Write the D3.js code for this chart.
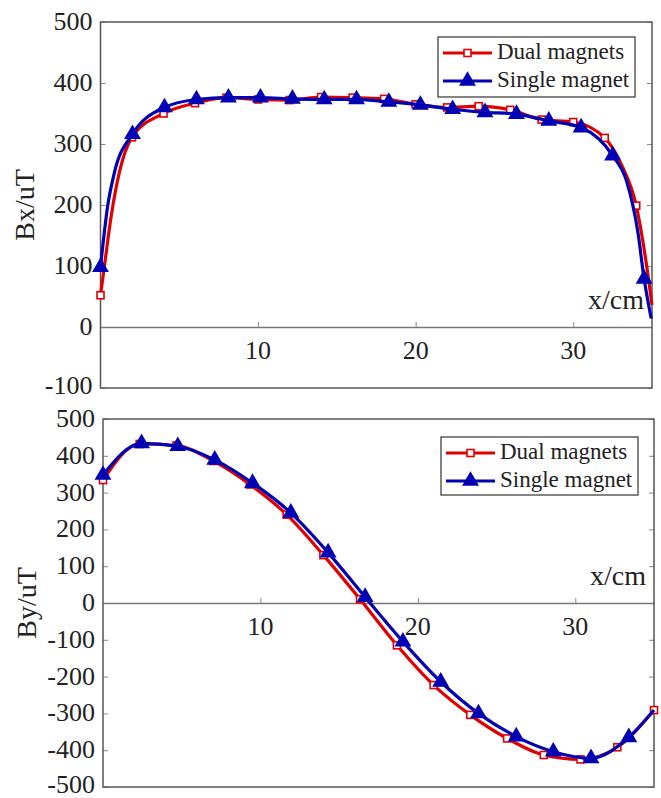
<!DOCTYPE html>
<html>
<head>
<meta charset="utf-8">
<script src="https://cdn.jsdelivr.net/npm/d3@7"></script>
<style>
  html, body { margin: 0; padding: 0; background: #fff; }
  svg { display: block; }
</style>
</head>
<body>
<svg id="chart" width="661" height="798" font-family="'Liberation Serif', 'Times New Roman', 'DejaVu Serif', serif"></svg>
<script>
// ---------- data ----------
const xTicks = [10, 20, 30];
const bxTicks = [-100, 0, 100, 200, 300, 400, 500];
const byTicks = [-500, -400, -300, -200, -100, 0, 100, 200, 300, 400, 500];
const seriesNames = ["Dual magnets", "Single magnet"];

// Bx, dual magnets (marker flag: 1 = marker drawn)
const bxDualX = [0, 0.25, 0.68, 1.2, 2, 4, 6, 8, 10, 12, 14, 16, 18, 20, 22, 24, 26, 28, 30, 32, 33.1, 34, 34.6, 35];
const bxDualY = [52, 100, 182, 254, 311, 350, 367, 376, 373, 372, 377, 376, 374, 365, 360, 362, 356, 340, 336, 310, 264, 199, 111, 36];
const bxDualM = [1, 0, 0, 0, 1, 1, 1, 1, 1, 1, 1, 1, 1, 1, 1, 1, 1, 1, 1, 1, 0, 1, 0, 0];

// Bx, single magnet
const bxSingleX = [0, 0.46, 0.89, 2.03, 4.06, 6.09, 8.12, 10.15, 12.18, 14.2, 16.25, 18.3, 20.3, 22.35, 24.4, 26.4, 28.45, 30.5, 32.5, 33.4, 34.1, 34.5, 34.95];
const bxSingleY = [98, 199, 254, 316, 360, 373, 376, 376, 374, 373, 373, 369, 364, 357, 352, 349, 338, 327, 281, 238, 156, 79, 14];
const bxSingleM = [1, 0, 0, 1, 1, 1, 1, 1, 1, 1, 1, 1, 1, 1, 1, 1, 1, 1, 1, 0, 0, 1, 0];

// By, dual magnets
const byDualX = [0, 2.33, 4.67, 7, 9.33, 11.67, 14, 16.33, 18.67, 21, 23.33, 25.67, 28, 30.33, 32.67, 35];
const byDualY = [334, 432, 428, 386, 322, 240, 130, 10, -115, -223, -304, -368, -413, -425, -392, -291];
const byDualM = [1, 1, 1, 1, 1, 1, 1, 1, 1, 1, 1, 1, 1, 1, 1, 1];

// By, single magnet
const bySingleX = [0, 2.45, 4.75, 7.1, 9.5, 11.93, 14.3, 16.65, 19.05, 21.45, 23.85, 26.25, 28.6, 31.0, 33.4, 35];
const bySingleY = [348, 434, 426, 389, 326, 245, 137, 16, -105, -214, -300, -363, -404, -422, -365, -291];
const bySingleM = [1, 1, 1, 1, 1, 1, 1, 1, 1, 1, 1, 1, 1, 1, 1, 0];

// ---------- styling ----------
const RED = "#e00000";
const BLUE = "#0000b4";
const FRAME = "#555";
const TEXT = "#222";

const svg = d3.select("#chart");

function panel(opts) {
  const { left, right, top, bottom, yDomain, yTicks, yLabel, series, legend } = opts;
  const g = svg.append("g");
  const x = d3.scaleLinear().domain([0, 35]).range([left, right]);
  const y = d3.scaleLinear().domain(yDomain).range([bottom, top]);

  // y axis ticks (inside) on left and right
  const axL = d3.axisLeft(y).tickValues(yTicks).tickSizeInner(-5).tickSizeOuter(0).tickFormat("");
  const axR = d3.axisRight(y).tickValues(yTicks).tickSizeInner(-5).tickSizeOuter(0).tickFormat("");
  const gl = g.append("g").attr("transform", `translate(${left},0)`).call(axL);
  const gr = g.append("g").attr("transform", `translate(${right},0)`).call(axR);
  [gl, gr].forEach(a => {
    a.select(".domain").remove();
    a.selectAll(".tick line").attr("stroke", "#888").attr("stroke-width", 1);
  });
  // y tick labels
  g.append("g").selectAll("text").data(yTicks).join("text")
    .attr("x", left - 8)
    .attr("y", d => y(d) + (d === yDomain[0] ? 0 : 2))
    .attr("text-anchor", "end")
    .attr("dominant-baseline", "middle")
    .attr("font-size", 26)
    .attr("fill", TEXT)
    .text(d => d);

  // zero line with x ticks pointing up
  const axX = d3.axisTop(x).tickValues(xTicks).tickSizeInner(5).tickSizeOuter(0).tickFormat("");
  const gx = g.append("g").attr("transform", `translate(0,${y(0)})`).call(axX);
  gx.select(".domain").attr("stroke", "#777").attr("stroke-width", 1.5);
  gx.selectAll(".tick line").attr("stroke", "#888");
  g.append("g").selectAll("text").data(xTicks).join("text")
    .attr("x", d => x(d))
    .attr("y", y(0) + 26)
    .attr("text-anchor", "middle")
    .attr("dominant-baseline", "middle")
    .attr("font-size", 26)
    .attr("fill", TEXT)
    .text(d => d);

  // frame
  g.append("rect")
    .attr("x", left).attr("y", top)
    .attr("width", right - left).attr("height", bottom - top)
    .attr("fill", "none").attr("stroke", FRAME).attr("stroke-width", 1.5);

  // axis labels
  g.append("text")
    .attr("transform", `translate(${left - 73},${(top + bottom) / 2}) rotate(-90)`)
    .attr("text-anchor", "middle")
    .attr("dominant-baseline", "middle")
    .attr("font-size", 28)
    .attr("fill", TEXT)
    .text(yLabel);
  g.append("text")
    .attr("x", right - 8)
    .attr("y", y(0) - 18)
    .attr("text-anchor", "end")
    .attr("font-size", 28)
    .attr("fill", TEXT)
    .text("x/cm");

  // series
  const line = d3.line().x(d => x(d.x)).y(d => y(d.y)).curve(d3.curveMonotoneX);
  series.forEach(s => {
    const pts = s.xs.map((v, i) => ({ x: v, y: s.ys[i], m: s.ms[i] }));
    g.append("path").datum(pts)
      .attr("d", line)
      .attr("fill", "none")
      .attr("stroke", s.color)
      .attr("stroke-width", 3.2)
      .attr("stroke-linejoin", "round");
    const mk = pts.filter(d => d.m);
    if (s.shape === "square") {
      g.append("g").selectAll("rect").data(mk).join("rect")
        .attr("x", d => x(d.x) - 3.5).attr("y", d => y(d.y) - 3.5)
        .attr("width", 7).attr("height", 7)
        .attr("fill", "#fff").attr("stroke", s.color).attr("stroke-width", 1.6);
    } else {
      const tri = d3.symbol().type(d3.symbolTriangle).size(78);
      g.append("g").selectAll("path").data(mk).join("path")
        .attr("transform", d => `translate(${x(d.x)},${y(d.y)})`)
        .attr("d", tri)
        .attr("fill", s.color).attr("stroke", s.color).attr("stroke-width", 2)
        .attr("stroke-linejoin", "miter");
    }
  });

  // legend
  const lg = g.append("g");
  lg.append("rect")
    .attr("x", legend.x).attr("y", legend.y)
    .attr("width", legend.w).attr("height", legend.h)
    .attr("fill", "#fff").attr("stroke", "#333").attr("stroke-width", 1.2);
  series.forEach((s, i) => {
    const cy = legend.y + 16 + i * 28;
    lg.append("line")
      .attr("x1", legend.x + 5).attr("x2", legend.x + 54)
      .attr("y1", cy).attr("y2", cy)
      .attr("stroke", s.color).attr("stroke-width", 3);
    const cx = legend.x + 29.5;
    if (s.shape === "square") {
      lg.append("rect").attr("x", cx - 3.5).attr("y", cy - 3.5).attr("width", 7).attr("height", 7)
        .attr("fill", "#fff").attr("stroke", s.color).attr("stroke-width", 1.6);
    } else {
      lg.append("path").attr("transform", `translate(${cx},${cy})`)
        .attr("d", d3.symbol().type(d3.symbolTriangle).size(78))
        .attr("fill", s.color).attr("stroke", s.color).attr("stroke-width", 2);
    }
    lg.append("text")
      .attr("x", legend.x + 59)
      .attr("y", cy + 1)
      .attr("dominant-baseline", "middle")
      .attr("font-size", 23)
      .attr("fill", TEXT)
      .text(seriesNames[i]);
  });
}

panel({
  left: 100.5, right: 652, top: 22, bottom: 388,
  yDomain: [-100, 500], yTicks: bxTicks, yLabel: "Bx/uT",
  series: [
    { xs: bxDualX, ys: bxDualY, ms: bxDualM, color: RED, shape: "square" },
    { xs: bxSingleX, ys: bxSingleY, ms: bxSingleM, color: BLUE, shape: "triangle" }
  ],
  legend: { x: 438, y: 37, w: 197, h: 60 }
});

panel({
  left: 103, right: 654, top: 419, bottom: 787,
  yDomain: [-500, 500], yTicks: byTicks, yLabel: "By/uT",
  series: [
    { xs: byDualX, ys: byDualY, ms: byDualM, color: RED, shape: "square" },
    { xs: bySingleX, ys: bySingleY, ms: bySingleM, color: BLUE, shape: "triangle" }
  ],
  legend: { x: 441, y: 437, w: 197, h: 58 }
});
</script>
</body>
</html>
